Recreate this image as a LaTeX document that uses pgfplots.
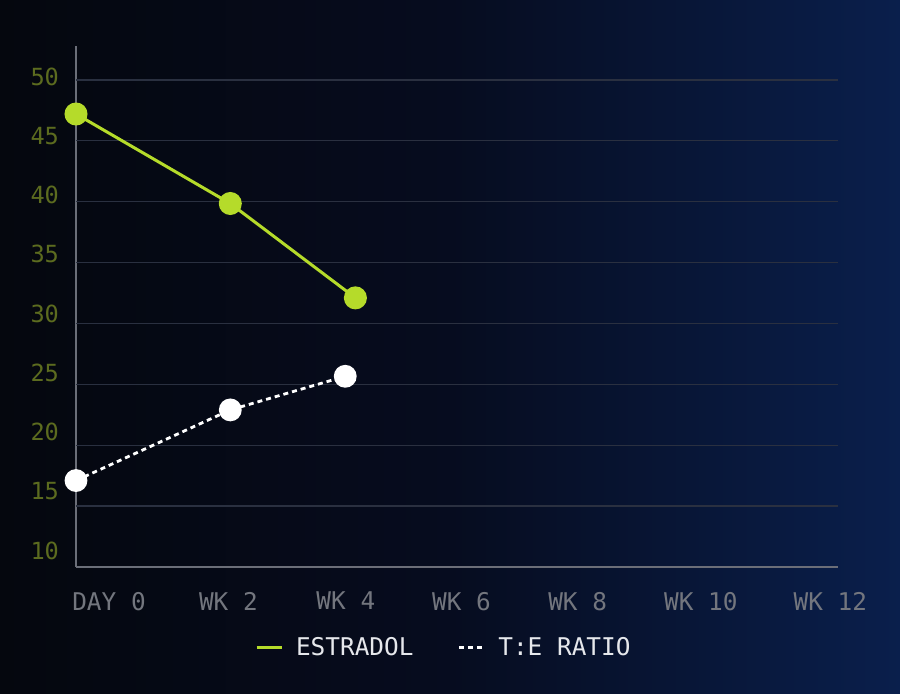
\documentclass[border=0pt]{standalone}
\usepackage{pgfplots}
\pgfplotsset{compat=1.18}
\usepackage{fontspec}
\setmainfont{DejaVu Sans Mono}
\definecolor{bgA}{HTML}{05070E}
\definecolor{bgB}{HTML}{060C1F}
\definecolor{bgC}{HTML}{0A1F4C}
\definecolor{bgD}{HTML}{0C2659}
\definecolor{lime}{HTML}{B5DB2A}
\definecolor{ylab}{HTML}{5C6B1F}
\definecolor{xlab}{HTML}{73767E}
\definecolor{gridc}{HTML}{2A3040}
\definecolor{axc}{HTML}{6B6E78}
\definecolor{legt}{HTML}{E6E8EC}
\pgfdeclarehorizontalshading{bgshade}{100bp}{color(0bp)=(bgA); color(25bp)=(bgA); color(50bp)=(bgB); color(75bp)=(bgC); color(100bp)=(bgD)}
\begin{document}
\begin{tikzpicture}
\path[use as bounding box] (0,0) rectangle (450pt,346.5pt);
\shade[shading=bgshade] (0,0) rectangle (450pt,346.5pt);
\begin{axis}[
  at={(38pt,63pt)}, anchor=south west,
  scale only axis, width=381pt, height=260.6pt,
  xmin=0, xmax=12, ymin=10, ymax=52.8,
  clip=false,
  axis x line*=bottom, axis y line*=left,
  axis line style={draw=axc, line width=0.7pt, -},
  major tick length=0pt,
  xtick={0.52,2.40,4.25,6.07,7.90,9.84,11.88},
  xticklabels={DAY 0,WK 2,WK 4,WK 6,WK 8,WK 10,WK 12},
  ytick={11.34,16.21,21.07,25.94,30.80,35.67,40.54,45.40,50.27},
  yticklabels={10,15,20,25,30,35,40,45,50},
  extra y ticks={15,20,25,30,35,40,45,50},
  extra y tick labels={},
  extra y tick style={grid=major, major grid style={draw=gridc, line width=0.7pt}},
  xticklabel style={text=xlab, font=\fontsize{12.2}{14}\selectfont, yshift=-9pt},
  yticklabel style={text=ylab, font=\fontsize{11.8}{13}\selectfont, xshift=-5pt},
  /pgf/number format/assume math mode=true,
  legend style={draw=none, fill=none, at={(0.484,-0.155)}, anchor=center,
    legend columns=2, text=legt, font=\fontsize{12.2}{14}\selectfont,
    /tikz/every odd column/.append style={column sep=4.5pt},
    /tikz/every even column/.append style={column sep=20pt}},
  legend image code/.code={\draw[#1] (0pt,0pt) -- (12.5pt,0pt);},
]
\addplot[lime, line width=1.5pt, mark=*, mark size=5pt, mark options={fill=lime, draw=lime, solid}]
  coordinates {(0,47.2) (2.43,39.85) (4.40,32.1)};
\addlegendentry{ESTRADOL}
\addplot[white, line width=1.4pt, dash pattern=on 2.5pt off 2pt, mark=*, mark size=5pt, mark options={fill=white, draw=white, solid}]
  coordinates {(0,17.1) (2.43,22.9) (4.24,25.66)};
\addlegendentry{T:E RATIO}
\end{axis}
\end{tikzpicture}
\end{document}
